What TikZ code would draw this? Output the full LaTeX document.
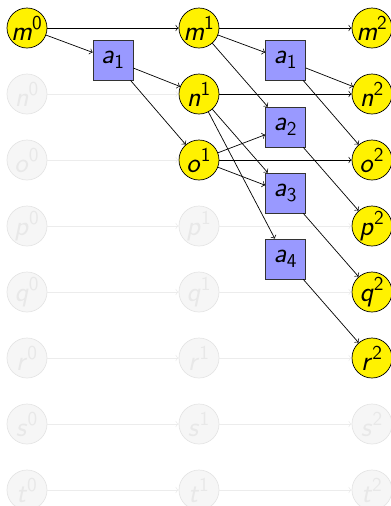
\documentclass[tikz,border=0pt]{standalone}
\newcommand{\st}[2]{\textit{#1}\textsuperscript{#2}}
\newcommand{\ac}[1]{\textit{a}\textsubscript{#1}}
\begin{document}
\begin{tikzpicture}[
  s/.style={circle, draw, fill=yellow, minimum size=8mm, inner sep=0pt},
  f/.style={circle, draw=gray!20, fill=gray!7, text=gray!18, minimum size=8mm, inner sep=0pt},
  act/.style={rectangle, draw=black!80, fill=blue!40, minimum size=8mm, inner sep=0pt},
  e/.style={->, thin},
  fe/.style={->, thin, draw=gray!15},
  every node/.append style={font=\fontsize{16}{19}\sffamily}
]
\useasboundingbox (0,0) rectangle (7.82,-10.12);

% --- column 0 ---
\node[s] (m0) at (0.54,-0.56) {\st{m}{0}};
\node[f] (n0) at (0.54,-1.88) {\st{n}{0}};
\node[f] (o0) at (0.54,-3.20) {\st{o}{0}};
\node[f] (p0) at (0.54,-4.52) {\st{p}{0}};
\node[f] (q0) at (0.54,-5.84) {\st{q}{0}};
\node[f] (r0) at (0.54,-7.16) {\st{r}{0}};
\node[f] (s0) at (0.54,-8.48) {\st{s}{0}};
\node[f] (t0) at (0.54,-9.80) {\st{t}{0}};

% --- column 1 ---
\node[s] (m1) at (3.98,-0.56) {\st{m}{1}};
\node[s] (n1) at (3.98,-1.88) {\st{n}{1}};
\node[s] (o1) at (3.98,-3.20) {\st{o}{1}};
\node[f] (p1) at (3.98,-4.52) {\st{p}{1}};
\node[f] (q1) at (3.98,-5.84) {\st{q}{1}};
\node[f] (r1) at (3.98,-7.16) {\st{r}{1}};
\node[f] (s1) at (3.98,-8.48) {\st{s}{1}};
\node[f] (t1) at (3.98,-9.80) {\st{t}{1}};

% --- column 2 ---
\node[s] (m2) at (7.44,-0.56) {\st{m}{2}};
\node[s] (n2) at (7.44,-1.88) {\st{n}{2}};
\node[s] (o2) at (7.44,-3.20) {\st{o}{2}};
\node[s] (p2) at (7.44,-4.52) {\st{p}{2}};
\node[s] (q2) at (7.44,-5.84) {\st{q}{2}};
\node[s] (r2) at (7.44,-7.16) {\st{r}{2}};
\node[f] (s2) at (7.44,-8.48) {\st{s}{2}};
\node[f] (t2) at (7.44,-9.80) {\st{t}{2}};

% --- actions ---
\node[act] (la1) at (2.26,-1.20) {\ac{1}};
\node[act] (ra1) at (5.71,-1.20) {\ac{1}};
\node[act] (ra2) at (5.71,-2.54) {\ac{2}};
\node[act] (ra3) at (5.71,-3.86) {\ac{3}};
\node[act] (ra4) at (5.71,-5.18) {\ac{4}};

% --- faded frame arrows ---
\draw[fe] (n0)--(n1);
\draw[fe] (o0)--(o1);
\draw[fe] (p0)--(p1);
\draw[fe] (q0)--(q1);
\draw[fe] (r0)--(r1);
\draw[fe] (s0)--(s1);
\draw[fe] (t0)--(t1);
\draw[fe] (p1)--(p2);
\draw[fe] (q1)--(q2);
\draw[fe] (r1)--(r2);
\draw[fe] (s1)--(s2);
\draw[fe] (t1)--(t2);

% --- first step ---
\draw[e] (m0)--(m1);
\draw[e] (m0)--(la1);
\draw[e] (la1)--(n1);
\draw[e] (la1)--(o1);

% --- second step ---
\draw[e] (m1)--(m2);
\draw[e] (n1)--(n2);
\draw[e] (o1)--(o2);
\draw[e] (m1)--(ra1);
\draw[e] (m1)--(ra2);
\draw[e] (o1)--(ra2);
\draw[e] (n1)--(ra3);
\draw[e] (o1)--(ra3);
\draw[e] (n1)--(ra4);
\draw[e] (ra1)--(n2);
\draw[e] (ra1)--(o2);
\draw[e] (ra2)--(p2);
\draw[e] (ra3)--(q2);
\draw[e] (ra4)--(r2);

\end{tikzpicture}
\end{document}
